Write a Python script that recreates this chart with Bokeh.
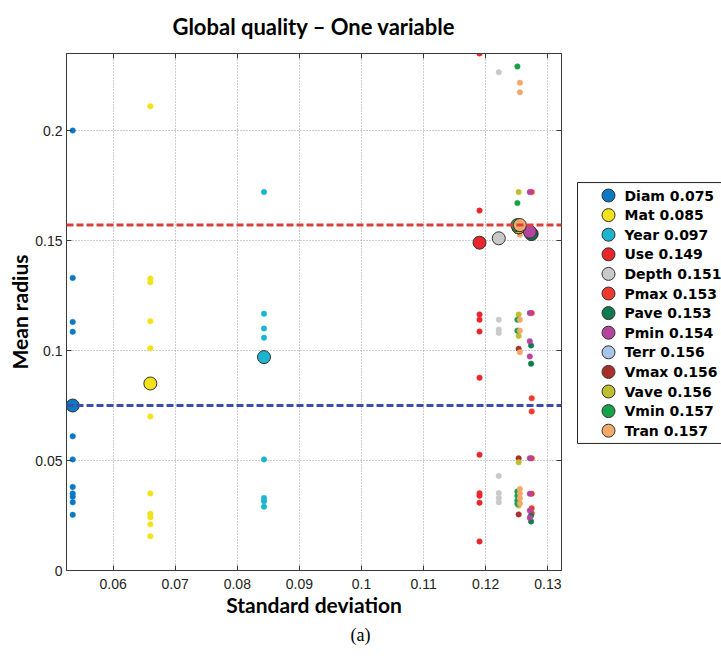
from bokeh.plotting import figure
from bokeh.layouts import row
from bokeh.models import (Span, FixedTicker, Title, Range1d, ColumnDataSource,
                          LinearAxis)
from bokeh.core.properties import value
from bokeh.embed import file_html
from bokeh.resources import INLINE

# ---------------- data ----------------
names = ["Diam", "Mat", "Year", "Use", "Depth", "Pmax", "Pave", "Pmin",
         "Terr", "Vmax", "Vave", "Vmin", "Tran"]
mean_radius = [0.075, 0.085, 0.097, 0.149, 0.151, 0.153, 0.153, 0.154,
               0.156, 0.156, 0.156, 0.157, 0.157]
std_dev = [0.0535, 0.0660, 0.0843, 0.1190, 0.1221, 0.1274, 0.1273, 0.1271,
           0.1253, 0.1253, 0.1253, 0.1251, 0.1255]
colors = ["#0A78C2", "#F2E21B", "#1BB5CF", "#E8262C", "#C9C9C9", "#EE3A2F",
          "#0E7A4F", "#B5449E", "#AAC4E8", "#A8302A", "#BEBE2E", "#17A24A",
          "#F4A86A"]

diam_r = [0.200, 0.133, 0.113, 0.1085, 0.061, 0.0505, 0.038, 0.035, 0.0335, 0.031, 0.0253]
mat_r = [0.211, 0.1327, 0.131, 0.1133, 0.101, 0.070, 0.035, 0.0258, 0.0242, 0.021, 0.0156]
year_r = [0.172, 0.1167, 0.110, 0.1058, 0.0505, 0.033, 0.0315, 0.029]
use_r = [0.235, 0.1636, 0.1164, 0.114, 0.1086, 0.0876, 0.0526, 0.0351, 0.034, 0.0308, 0.0132]
depth_r = [0.2265, 0.114, 0.1095, 0.108, 0.043, 0.0352, 0.033, 0.031]
pmax_r = [0.172, 0.117, 0.0783, 0.0723, 0.051, 0.0349, 0.0283, 0.026]
pave_r = [0.1023, 0.094, 0.025, 0.0223]
pmin_r = [0.172, 0.117, 0.1042, 0.0973, 0.051, 0.0349, 0.0273, 0.024]
terr_r = [0.109, 0.0345]
vmax_r = [0.1008, 0.051, 0.0255]
vave_r = [0.172, 0.1164, 0.1066, 0.0492, 0.0295]
vmin_r = [0.2291, 0.167, 0.114, 0.109, 0.0359, 0.034, 0.0318, 0.0303]
tran_r = [0.2217, 0.2174, 0.1526, 0.114, 0.109, 0.0992, 0.0371, 0.035, 0.0328, 0.0305]
radii = [diam_r, mat_r, year_r, use_r, depth_r, pmax_r, pave_r, pmin_r,
         terr_r, vmax_r, vave_r, vmin_r, tran_r]

x_ticks = [0.06, 0.07, 0.08, 0.09, 0.1, 0.11, 0.12, 0.13]
x_tick_labels = ["0.06", "0.07", "0.08", "0.09", "0.1", "0.11", "0.12", "0.13"]
y_ticks = [0, 0.05, 0.1, 0.15, 0.2]
y_tick_labels = ["0", "0.05", "0.1", "0.15", "0.2"]

best_level = min(mean_radius)
worst_level = max(mean_radius)

# ---------------- main figure ----------------
AX = "#3a3a3a"
W_MAIN, H = 569, 659
FRAME_TOP, FRAME_BOTTOM = 53, 570
p = figure(width=W_MAIN, height=H, x_range=Range1d(0.0525, 0.1322),
           y_range=Range1d(0, 0.235), output_backend="svg",
           toolbar_location=None, min_border_left=66, min_border_top=FRAME_TOP,
           min_border_bottom=H - FRAME_BOTTOM, min_border_right=8,
           x_axis_label="Standard deviation", y_axis_label="Mean radius")
p.background_fill_color = "white"
p.border_fill_color = "white"
p.outline_line_color = AX
p.outline_line_width = 1

p.title = Title(text="Global quality \u2013 One variable", align="center",
                text_font="Lato", text_font_style="bold", text_font_size="22px",
                text_color="black", standoff=19)

for ax, ticks, labels in ((p.xaxis[0], x_ticks, x_tick_labels),
                          (p.yaxis[0], y_ticks, y_tick_labels)):
    ax.ticker = FixedTicker(ticks=ticks)
    ax.major_label_overrides = dict(zip(ticks, labels))
    ax.major_tick_in = 5
    ax.major_tick_out = 0
    ax.minor_tick_line_color = None
    ax.axis_line_color = AX
    ax.major_tick_line_color = AX
    ax.major_label_text_font = "Liberation Sans"
    ax.major_label_text_font_size = "14px"
    ax.major_label_text_color = "#222222"
    ax.axis_label_text_font = "Lato"
    ax.axis_label_text_font_style = "bold"
    ax.axis_label_text_font_size = "21px"
    ax.axis_label_text_color = "black"
p.xaxis.major_label_standoff = 8
p.yaxis.major_label_standoff = 4
p.xaxis.axis_label_standoff = 0
p.yaxis.axis_label_standoff = 0

# tick marks on the top and right edges of the box
for loc, ticks in (("above", x_ticks), ("right", y_ticks)):
    p.add_layout(LinearAxis(ticker=FixedTicker(ticks=ticks),
                            major_label_overrides={t: " " for t in ticks},
                            major_label_text_font_size="1px",
                            major_label_standoff=0, major_tick_in=5,
                            major_tick_out=0, minor_tick_line_color=None,
                            axis_line_color=AX, major_tick_line_color=AX), loc)

p.xgrid.ticker = FixedTicker(ticks=x_ticks)
p.ygrid.ticker = FixedTicker(ticks=y_ticks)
for g in (p.xgrid[0], p.ygrid[0]):
    g.grid_line_color = "#9a9a9a"
    g.grid_line_dash = "1 2"
    g.grid_line_width = 1

# reference lines
p.add_layout(Span(location=worst_level, dimension="width", line_color="#D8423C",
                  line_width=3, line_dash="7 3"))
p.add_layout(Span(location=best_level, dimension="width", line_color="#3B4DAB",
                  line_width=3, line_dash="7 3"))

# small points
for s, r, c in zip(std_dev, radii, colors):
    src = ColumnDataSource(dict(x=[s] * len(r), y=r))
    p.scatter("x", "y", source=src, size=5.5, fill_color=c, line_color=c,
              line_width=0.5)

# mean markers
for s, m, c in zip(std_dev, mean_radius, colors):
    src = ColumnDataSource(dict(x=[s], y=[m]))
    p.scatter("x", "y", source=src, size=13, fill_color=c,
              line_color="#333333", line_width=1)

p.add_layout(Title(text="(a)", align="left", offset=284,
                   text_font="Liberation Serif", text_font_style="normal",
                   text_font_size="18px", text_color="black", standoff=7), "below")

# ---------------- legend panel (separate figure, frame aligned with main) ----
W_LEG = 721 - W_MAIN
ROW_PX = 19.6          # pixel height of one legend row
FIRST_ROW_PX = 195     # pixel position of first row centre
n = len(names)
y_top = (FRAME_TOP - FIRST_ROW_PX) / ROW_PX
y_bot = (FRAME_BOTTOM - FIRST_ROW_PX) / ROW_PX
lg = figure(width=W_LEG, height=H, x_range=Range1d(0, W_LEG),
            y_range=Range1d(y_bot, y_top), output_backend="svg",
            toolbar_location=None, min_border=0)
lg.axis.visible = False
lg.grid.visible = False
lg.outline_line_color = None
lg.background_fill_color = "white"
lg.border_fill_color = "white"

lg.quad(left=8, right=W_LEG + 20, top=-0.66, bottom=n - 0.35,
        fill_color="white", line_color="#222222", line_width=1)
idx = list(range(n))
labels = [f"{nm} {m:.3f}" for nm, m in zip(names, mean_radius)]
lsrc = ColumnDataSource(dict(y=idx, c=colors, t=labels))
lg.scatter(x=39, y="y", source=lsrc, size=13, fill_color="c",
           line_color="#333333", line_width=1)
lg.text(x=55, y="y", text="t", source=lsrc, text_baseline="middle",
        text_font=value("DejaVu Sans"), text_font_style="bold",
        text_font_size="14px", text_color="black")

layout = row(p, lg, spacing=0)
open("out.html", "w").write(file_html(layout, INLINE))
